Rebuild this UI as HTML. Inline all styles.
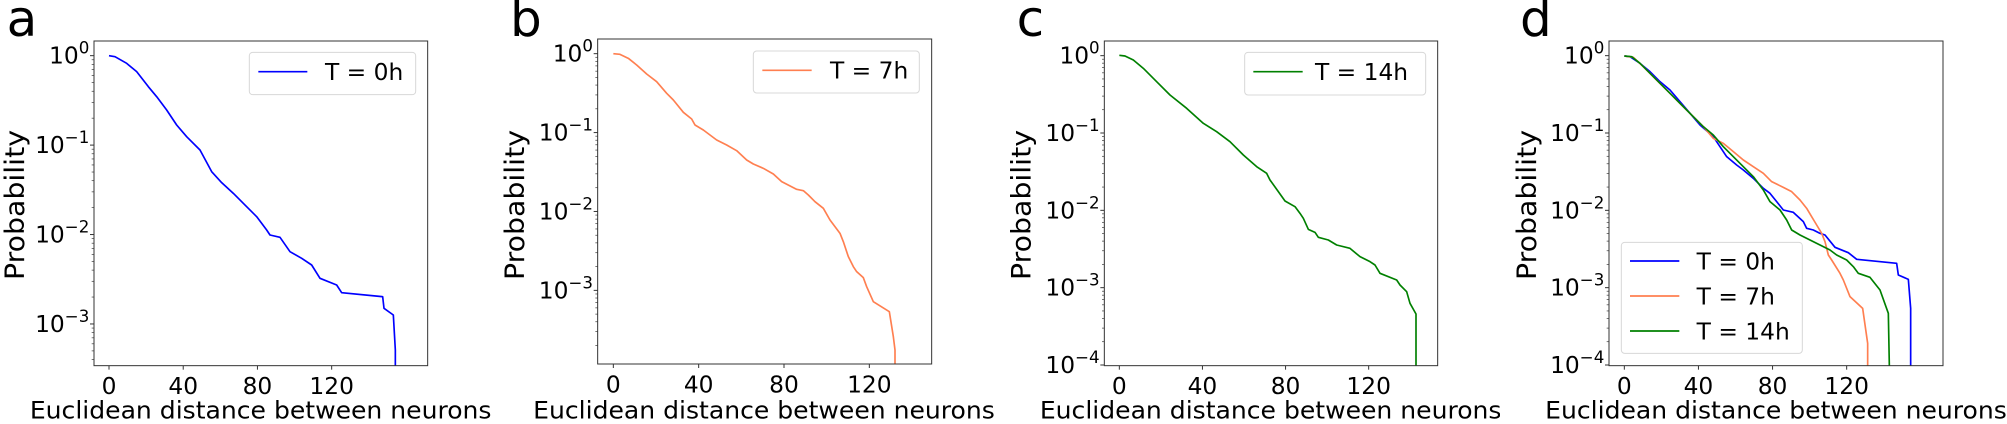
<!DOCTYPE html>
<html><head><meta charset="utf-8"><style>
html,body{margin:0;padding:0;background:#fff;width:2007px;height:424px;overflow:hidden}
svg{position:absolute;top:0;font-family:"DejaVu Sans","Liberation Sans",sans-serif}
</style></head><body>
<div id="root"></div>
<script>
const panels=[
{off:0,w:500,box:[282,123,1283,1097],x0:327,xs:(995-327)/120,y0:167,yd:268.3,dec:[0,-1,-2,-3],letter:'a',lx:20,xlc:782,ylx:72,
 legend:{r:[748,157,1247,284],items:[['#0000ff',215,'T = 0h']],lx1:775,lx2:922,tx:975},
 curves:[['#0000ff',[[327,167],[345,170],[380,190],[410,215],[445,260],[470,290],[500,330],[530,375],[560,410],[600,450],[635,515],[665,548],[700,580],[740,620],[770,650],[800,690],[810,705],[840,712],[870,755],[905,775],[935,795],[960,835],[1010,855],[1025,878],[1148,890],[1152,925],[1180,945],[1186,1050],[1186,1097]]]]},
{off:500,w:500,box:[293,117,1295,1092],x0:340,xs:(1108-340)/120,y0:161,yd:236.7,dec:[0,-1,-2,-3],letter:'b',lx:30,xlc:792,ylx:72,
 legend:{r:[760,153,1258,279],items:[['#ff7f50',211,'T = 7h']],lx1:787,lx2:935,tx:990},
 curves:[['#ff7f50',[[340,161],[360,163],[385,175],[410,195],[440,222],[470,245],[500,280],[520,300],[550,337],[575,357],[585,375],[610,390],[650,420],[680,435],[710,452],[740,480],[760,492],[790,505],[820,522],[845,545],[890,568],[910,572],[925,585],[945,605],[970,625],[990,660],[1020,700],[1030,725],[1045,770],[1060,800],[1070,815],[1090,833],[1100,860],[1120,905],[1168,935],[1180,1010],[1185,1050],[1185,1092]]]]},
{off:1000,w:500,box:[313,123,1313,1097],x0:358,xs:(1106-358)/120,y0:167,yd:232,dec:[0,-1,-2,-3,-4],letter:'c',lx:50,xlc:812,ylx:92,
 legend:{r:[734,157,1277,285],items:[['#008000',215,'T = 14h']],lx1:760,lx2:908,tx:945},
 curves:[['#008000',[[358,166],[375,168],[400,180],[430,205],[470,245],[510,285],[560,325],[610,370],[650,395],[690,425],[730,465],[770,500],[800,520],[810,540],[835,575],[855,603],[885,620],[900,640],[910,655],[925,688],[945,697],[955,712],[985,720],[1010,735],[1050,745],[1080,770],[1110,785],[1125,795],[1140,820],[1190,840],[1200,855],[1220,875],[1230,910],[1248,942],[1248,1097]]]]},
{off:1500,w:507,box:[327,123,1329,1097],x0:373,xs:(1040-373)/120,y0:167,yd:232,dec:[0,-1,-2,-3,-4],letter:'d',lx:60,xlc:828,ylx:108,
 legend:{r:[364,727,907,1060],items:[['#0000ff',783,'T = 0h'],['#ff7f50',888,'T = 7h'],['#008000',993,'T = 14h']],lx1:390,lx2:538,tx:590},
 curves:[
 ['#0000ff',[[373,168],[390,170],[420,190],[450,215],[480,245],[510,270],[540,305],[570,340],[600,375],[640,410],[660,440],[680,470],[710,495],[730,510],[760,535],[790,565],[810,580],[830,605],[850,630],[880,637],[910,665],[920,685],[940,690],[960,700],[975,705],[1005,742],[1045,758],[1070,778],[1190,790],[1195,825],[1225,838],[1232,925],[1232,1097]]],
 ['#ff7f50',[[373,168],[400,172],[430,200],[470,240],[510,280],[550,320],[580,350],[610,380],[640,415],[670,430],[700,455],[730,480],[760,500],[790,520],[815,545],[850,562],[875,575],[900,600],[920,625],[935,650],[950,675],[965,700],[975,725],[985,765],[995,780],[1020,820],[1030,840],[1050,890],[1088,925],[1103,1030],[1103,1097]]],
 ['#008000',[[373,168],[395,170],[420,190],[450,220],[480,250],[510,280],[545,315],[580,350],[610,380],[640,405],[670,440],[700,470],[730,500],[760,530],[790,570],[810,605],[840,630],[860,660],[875,690],[900,705],[930,720],[960,735],[990,750],[1010,765],[1040,780],[1060,800],[1075,820],[1110,832],[1140,870],[1165,940],[1168,1097]]]]}
];
let html='';
for(const p of panels){
 const [bx1,by1,bx2,by2]=p.box;
 let s=`<svg style="left:${p.off}px" width="${p.w}" height="424" viewBox="0 0 ${p.w*3} 1272">`;
 s+=`<text x="${p.lx}" y="108" font-size="150">${p.letter}</text>`;
 for(const [c,pts] of p.curves){
  s+=`<polyline fill="none" stroke="${c}" stroke-width="5" stroke-linejoin="round" points="${pts.map(q=>q.join(',')).join(' ')}"/>`;
 }
 const L=p.legend,[rx1,ry1,rx2,ry2]=L.r;
 s+=`<rect x="${rx1}" y="${ry1}" width="${rx2-rx1}" height="${ry2-ry1}" rx="10" fill="#fff" fill-opacity="0.8" stroke="#d8d8d8" stroke-width="3"/>`;
 for(const [c,y,t] of L.items){
  s+=`<line x1="${L.lx1}" x2="${L.lx2}" y1="${y}" y2="${y}" stroke="${c}" stroke-width="5"/>`;
  s+=`<text x="${L.tx}" y="${y+25}" font-size="70">${t}</text>`;
 }
 s+=`<rect x="${bx1}" y="${by1}" width="${bx2-bx1}" height="${by2-by1}" fill="none" stroke="#333" stroke-width="3"/>`;
 for(const v of [0,40,80,120]){
  const x=p.x0+v*p.xs;
  s+=`<line x1="${x}" x2="${x}" y1="${by2}" y2="${by2+12}" stroke="#333" stroke-width="3"/>`;
  s+=`<text x="${x}" y="${by2+85}" font-size="70" text-anchor="middle">${v}</text>`;
 }
 for(let d=1;d>=-5;d--){
  for(let k=1;k<10;k++){
   const y=p.y0-(d+Math.log10(k))*p.yd;
   if(y<by1||y>by2)continue;
   const major=k==1;
   s+=`<line x1="${bx1}" x2="${bx1-(major?12:7)}" y1="${y}" y2="${y}" stroke="#333" stroke-width="${major?3:2}"/>`;
  }
 }
 for(const d of p.dec){
  const y=p.y0-d*p.yd;
  s+=`<text x="${bx1-14}" y="${y+24}" font-size="70" text-anchor="end">10<tspan dy="-30" font-size="50">${d==0?'0':'\u2212'+(-d)}</tspan></text>`;
 }
 s+=`<text x="${p.xlc}" y="1255" font-size="72" text-anchor="middle" textLength="1385" lengthAdjust="spacingAndGlyphs">Euclidean distance between neurons</text>`;
 s+=`<text transform="translate(${p.ylx},615) rotate(-90)" font-size="80" text-anchor="middle" textLength="450" lengthAdjust="spacingAndGlyphs">Probability</text>`;
 s+='</svg>';
 html+=s;
}
document.getElementById('root').innerHTML=html;
</script>
</body></html>
